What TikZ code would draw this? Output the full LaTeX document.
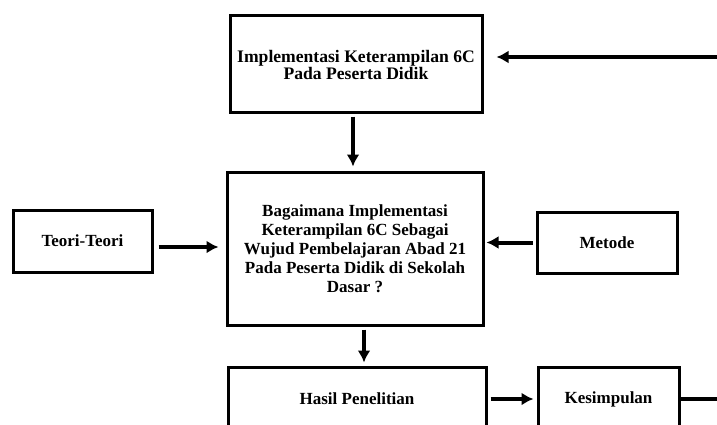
\documentclass[tikz,border=0pt]{standalone}
\usepackage{fontspec}
\setmainfont{Liberation Serif}
\usetikzlibrary{arrows.meta}
\begin{document}
\begin{tikzpicture}[x=1pt, y=-1pt, font=\bfseries\fontsize{17}{19}\selectfont,
    box/.style={draw, line width=3pt, align=center, inner sep=0pt},
    arrow/.style={line width=4pt, -{Latex[length=12pt,width=13pt]}}]
  \clip (0,0) rectangle (717,424);
  \node[box, minimum width=252, minimum height=97] (impl) at (356,63.5) {};
  \node[align=center, inner sep=0pt, font=\bfseries\fontsize{17.6}{17.5}\selectfont] (impltxt) at (356,65)
    {Implementasi Keterampilan 6C\\Pada Peserta Didik};
  \node[box, minimum width=256, minimum height=153] (tanya) at (355,248.5)
    {Bagaimana Implementasi\\Keterampilan 6C Sebagai\\Wujud Pembelajaran Abad 21\\Pada Peserta Didik di Sekolah\\Dasar ?};
  \node[box, minimum width=139, minimum height=62] (teori) at (82.5,241) {Teori-Teori};
  \node[box, minimum width=140, minimum height=61] (metode) at (607,242.5) {Metode};
  \node[box, minimum width=258, minimum height=64] (hasil) at (357,399) {Hasil Penelitian};
  \node[box, minimum width=141, minimum height=64] (simpul) at (608.5,399) {Kesimpulan};
  \coordinate (masuk) at (717,57);
  \coordinate (keluar) at (717,399);
  \draw[arrow, shorten >=13pt] (masuk) -- (masuk -| impl.east);
  \draw[arrow, shorten <=3pt, shorten >=4pt] ([xshift=-3pt]impl.south) -- ([xshift=-3pt]impl.south |- tanya.north);
  \draw[arrow, shorten <=5pt, shorten >=7pt] ([yshift=-6pt]teori.east) -- ([yshift=-6pt]teori.east -| tanya.west);
  \draw[arrow, shorten <=3pt, shorten >=2pt] (metode.west) -- (metode.west -| tanya.east);
  \draw[arrow, shorten <=3pt, shorten >=3pt] ([xshift=9pt]tanya.south) -- ([xshift=9pt]tanya.south |- hasil.north);
  \draw[arrow, shorten <=3pt, shorten >=3pt] (hasil.east) -- (simpul.west);
  \draw[line width=4pt] (simpul.east) -- (simpul.east -| keluar);
\end{tikzpicture}
\end{document}
